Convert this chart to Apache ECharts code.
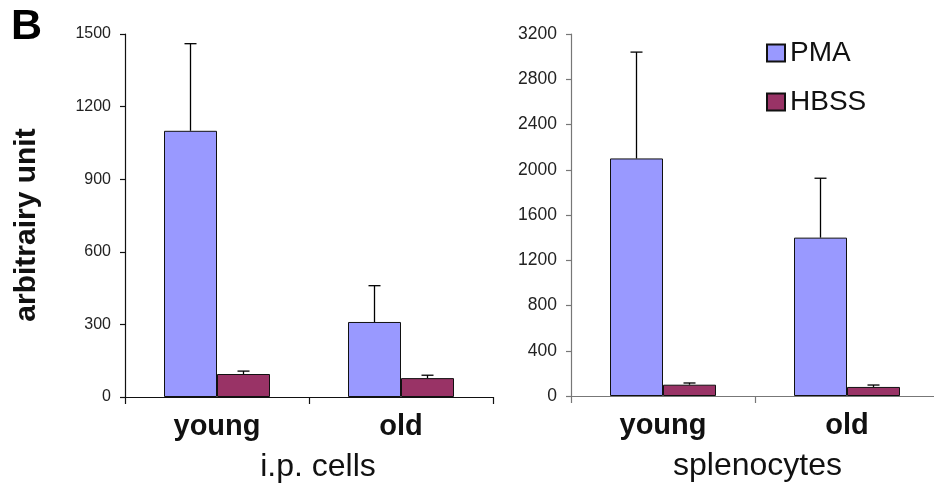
<!DOCTYPE html>
<html>
<head>
<meta charset="utf-8">
<script src="https://cdn.jsdelivr.net/npm/echarts@6/dist/echarts.min.js"></script>
<style>
html,body{margin:0;padding:0;background:#fff;}
#chart{width:934px;height:491px;}
</style>
</head>
<body>
<div id="chart"></div>
<script>
// ---- data ----
const categories = ['young', 'old'];
const seriesNames = ['PMA', 'HBSS'];
// i.p. cells
const ipPMA = [1100, 310];
const ipPMAerr = [360, 150];
const ipHBSS = [95, 78];
const ipHBSSerr = [12, 12];
// splenocytes
const splPMA = [2100, 1400];
const splPMAerr = [940, 525];
const splHBSS = [100, 80];
const splHBSSerr = [15, 17];
// axis ticks
const ipTicks = [0, 300, 600, 900, 1200, 1500];
const splTicks = [0, 400, 800, 1200, 1600, 2000, 2400, 2800, 3200];

const FONT = 'Liberation Sans, Arial, Helvetica, sans-serif';
const PMA_COLOR = '#9999FF';
const HBSS_COLOR = '#993366';
const BAR_W = 53;

function errData(means, errs) {
  return means.map((m, i) => [i, m, m + errs[i]]);
}
function errRender(offset) {
  return function (params, api) {
    const base = api.coord([api.value(0), api.value(1)]);
    const top = api.coord([api.value(0), api.value(2)]);
    const x = base[0] + offset;
    const style = { stroke: '#000', lineWidth: 1.3 };
    return {
      type: 'group',
      children: [
        { type: 'line', shape: { x1: x, y1: base[1], x2: x, y2: top[1] }, style },
        { type: 'line', shape: { x1: x - 6, y1: top[1], x2: x + 6, y2: top[1] }, style }
      ]
    };
  };
}

function xAxis(gridIndex, name, color, namePad) {
  return {
    type: 'category', gridIndex, data: categories,
    name, nameLocation: 'middle', nameGap: 54,
    nameTextStyle: { fontFamily: FONT, fontSize: 32, color: '#111', padding: namePad },
    axisLine: { lineStyle: { color, width: 1.2 } },
    axisTick: { show: true, length: 7, lineStyle: { color, width: 1.2 } },
    axisLabel: { fontFamily: FONT, fontSize: 29, fontWeight: 'bold', color: '#111', margin: 15 },
    splitLine: { show: false }
  };
}
function yAxis(gridIndex, ticks, color, fontSize, margin) {
  return {
    type: 'value', gridIndex,
    min: ticks[0], max: ticks[ticks.length - 1], interval: ticks[1] - ticks[0],
    axisLine: { show: true, lineStyle: { color, width: 1.2 } },
    axisTick: { show: true, length: 5, lineStyle: { color, width: 1.2 } },
    axisLabel: { fontFamily: FONT, fontSize, color: '#222', margin, formatter: v => String(v) },
    splitLine: { show: false }
  };
}
function barSeries(name, data, color, xi) {
  return {
    type: 'bar', name, data, xAxisIndex: xi, yAxisIndex: xi,
    barWidth: BAR_W, barGap: '0%',
    itemStyle: { color, borderColor: '#111', borderWidth: 1 },
    emphasis: { disabled: true }
  };
}
function errSeries(means, errs, offset, xi) {
  return {
    type: 'custom', xAxisIndex: xi, yAxisIndex: xi,
    data: errData(means, errs), renderItem: errRender(offset), z: 3,
    silent: true
  };
}

const chart = echarts.init(document.getElementById('chart'), null, { renderer: 'canvas' });
chart.setOption({
  animation: false,
  backgroundColor: '#fff',
  grid: [
    { left: 125, top: 34, width: 368, height: 363, outerBoundsMode: 'none', containLabel: false },
    { left: 571, top: 34, width: 368, height: 362, outerBoundsMode: 'none', containLabel: false }
  ],
  legend: {
    data: seriesNames, orient: 'vertical', left: 761, top: 34,
    itemWidth: 18, itemHeight: 17, itemGap: 21,
    textStyle: { fontFamily: FONT, fontSize: 28, color: '#111' },
    icon: 'rect'
  },
  xAxis: [
    xAxis(0, 'i.p. cells', '#111', [0, 0, 0, 18]),
    xAxis(1, 'splenocytes', '#777', [0, 0, 0, 5])
  ],
  yAxis: [
    yAxis(0, ipTicks, '#111', 16, 14),
    yAxis(1, splTicks, '#777', 17.5, 14)
  ],
  graphic: [
    { type: 'text', left: 11, top: 6,
      style: { text: 'B', fontFamily: FONT, fontSize: 43, fontWeight: 'bold', fill: '#000' } },
    { type: 'text', x: 27, y: 225, rotation: Math.PI / 2,
      style: { text: 'arbitrairy unit', fontFamily: FONT, fontSize: 30, fontWeight: 'bold', fill: '#111',
        align: 'center', verticalAlign: 'middle' } }
  ],
  series: [
    barSeries('PMA', ipPMA, PMA_COLOR, 0),
    barSeries('HBSS', ipHBSS, HBSS_COLOR, 0),
    barSeries('PMA', splPMA, PMA_COLOR, 1),
    barSeries('HBSS', splHBSS, HBSS_COLOR, 1),
    errSeries(ipPMA, ipPMAerr, -BAR_W / 2, 0),
    errSeries(ipHBSS, ipHBSSerr, BAR_W / 2, 0),
    errSeries(splPMA, splPMAerr, -BAR_W / 2, 1),
    errSeries(splHBSS, splHBSSerr, BAR_W / 2, 1)
  ]
});
</script>
</body>
</html>
